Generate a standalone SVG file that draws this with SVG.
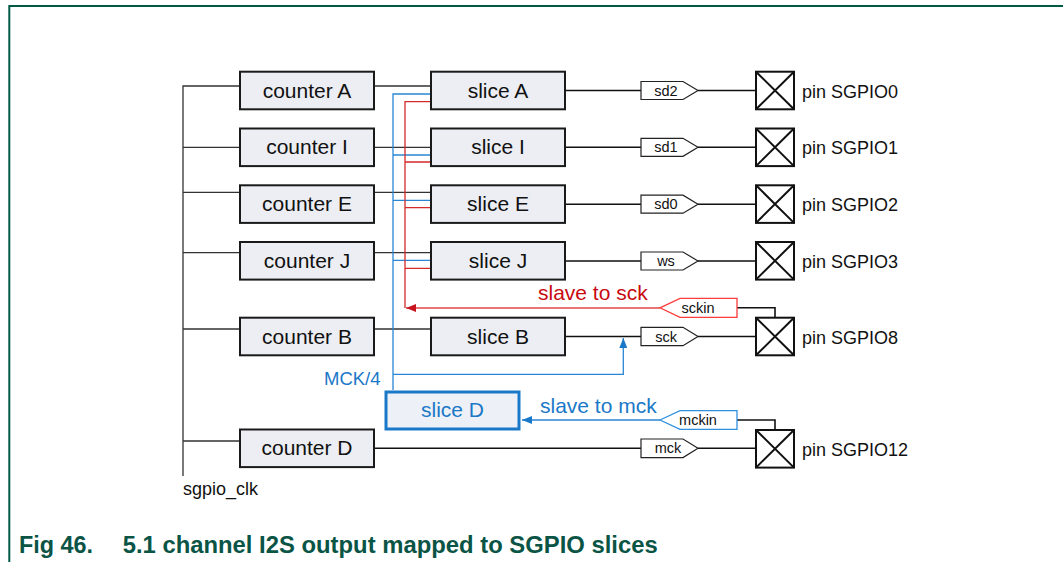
<svg xmlns="http://www.w3.org/2000/svg" width="1063" height="562" viewBox="0 0 1063 562">
<style>
.box{fill:#eceef3;stroke:#1a1a1a;stroke-width:2}
.lbl{font-family:"Liberation Sans",Arial,sans-serif;font-size:21px;fill:#111;text-anchor:middle}
.pinl{font-family:"Liberation Sans",Arial,sans-serif;font-size:18px;fill:#111}
.tag{fill:#fff;stroke:#222;stroke-width:1.2}
.tagt{font-family:"Liberation Sans",Arial,sans-serif;font-size:14.5px;fill:#111;text-anchor:middle}
.pin{fill:#fff;stroke:#111;stroke-width:2}
.w{fill:none;stroke:#333;stroke-width:1.3}
.wk{fill:none;stroke:#111;stroke-width:1.6}
.bl{fill:none;stroke:#2a86d4;stroke-width:1.3}
.rd{fill:none;stroke:#d42a2a;stroke-width:1.3}
</style>
<defs>
<marker id="ar" markerWidth="10" markerHeight="8" refX="10" refY="4" orient="auto" markerUnits="userSpaceOnUse"><path d="M0,0 L10,4 L0,8 z" fill="#c8141e"/></marker>
<marker id="ab" markerWidth="10" markerHeight="8" refX="10" refY="4" orient="auto" markerUnits="userSpaceOnUse"><path d="M0,0 L10,4 L0,8 z" fill="#1a78c8"/></marker>
</defs>
<rect width="1063" height="562" fill="#fff"/>
<path d="M9.3,562 V6 H1063" fill="none" stroke="#005a46" stroke-width="2"/>

<g id="connectors">
<path class="w" d="M183,476 V86 H240 M183,147.3 H240 M183,192.3 H240 M183,252.7 H240 M183,329 H240 M183,441 H240"/>
<path class="w" d="M374,86 H431 M374,147.3 H431 M374,192.3 H431 M374,252.7 H431 M374,329 H431"/>
<path class="bl" d="M393,390 V94 H431 M393,155 H431 M393,200.3 H431 M393,260.3 H431"/>
<path class="rd" d="M405,308 V101.7 H431 M405,162 H431 M405,207.7 H431 M405,268.3 H431"/>
<path d="M660,308 H406" fill="none" stroke="#e04848" stroke-width="1.3" marker-end="url(#ar)"/>
<path class="wk" d="M565,90.5 H641 M698,90.5 H756"/>
<path class="wk" d="M565,147.3 H641 M698,147.3 H756"/>
<path class="wk" d="M565,204.2 H641 M698,204.2 H756"/>
<path class="wk" d="M565,261 H641 M698,261 H756"/>
<path class="wk" d="M565,336.5 H641 M698,336.5 H756"/>
<path class="wk" d="M374,448.3 H641 M698,448.3 H756"/>
<path class="wk" d="M737,307.7 H775 V317.7 M737,420 H775 V430"/>
<path class="bl" d="M393,374.3 H623.3 V338" marker-end="url(#ab)"/>
<path class="bl" d="M660,420 H522" marker-end="url(#ab)"/>
</g>

<g id="bus-label"><text class="pinl" x="183" y="495">sgpio_clk</text></g>

<g id="counterA"><rect class="box" x="240" y="71.7" width="134" height="37.6"/><text class="lbl" x="307" y="97.5">counter A</text></g>
<g id="counterI"><rect class="box" x="240" y="128.5" width="134" height="37.6"/><text class="lbl" x="307" y="154.3">counter I</text></g>
<g id="counterE"><rect class="box" x="240" y="185.3" width="134" height="37.6"/><text class="lbl" x="307" y="211.1">counter E</text></g>
<g id="counterJ"><rect class="box" x="240" y="242" width="134" height="37.6"/><text class="lbl" x="307" y="267.8">counter J</text></g>
<g id="counterB"><rect class="box" x="240" y="317.7" width="134" height="37.6"/><text class="lbl" x="307" y="343.5">counter B</text></g>
<g id="counterD"><rect class="box" x="240" y="429.5" width="134" height="37.6"/><text class="lbl" x="307" y="455.3">counter D</text></g>

<g id="sliceA"><rect class="box" x="431" y="71.7" width="134" height="37.6"/><text class="lbl" x="498" y="97.5">slice A</text></g>
<g id="sliceI"><rect class="box" x="431" y="128.5" width="134" height="37.6"/><text class="lbl" x="498" y="154.3">slice I</text></g>
<g id="sliceE"><rect class="box" x="431" y="185.3" width="134" height="37.6"/><text class="lbl" x="498" y="211.1">slice E</text></g>
<g id="sliceJ"><rect class="box" x="431" y="242" width="134" height="37.6"/><text class="lbl" x="498" y="267.8">slice J</text></g>
<g id="sliceB"><rect class="box" x="431" y="317.7" width="134" height="37.6"/><text class="lbl" x="498" y="343.5">slice B</text></g>
<g id="sliceD"><rect x="386" y="392" width="133" height="37" fill="#edf0f6" stroke="#1a78c8" stroke-width="3"/><text class="lbl" x="452.5" y="417" style="fill:#1a78c8">slice D</text></g>

<g id="tag-sd2"><path class="tag" d="M641,81.5 H683 L698,90.5 L683,99.5 H641 z"/><text class="tagt" x="666" y="95.5">sd2</text></g>
<g id="tag-sd1"><path class="tag" d="M641,138.3 H683 L698,147.3 L683,156.3 H641 z"/><text class="tagt" x="666" y="152.3">sd1</text></g>
<g id="tag-sd0"><path class="tag" d="M641,195.2 H683 L698,204.2 L683,213.2 H641 z"/><text class="tagt" x="666" y="209.2">sd0</text></g>
<g id="tag-ws"><path class="tag" d="M641,252 H683 L698,261 L683,270 H641 z"/><text class="tagt" x="666" y="266">ws</text></g>
<g id="tag-sck"><path class="tag" d="M641,327.3 H683 L698,336.5 L683,345.7 H641 z"/><text class="tagt" x="666" y="341.5">sck</text></g>
<g id="tag-mck"><path class="tag" d="M641,439 H683 L698,448.3 L683,457.6 H641 z"/><text class="tagt" x="668" y="453.3">mck</text></g>
<g id="tag-sckin"><path d="M660,307.8 L680,298.3 H737 V317.3 H680 z" fill="#fff" stroke="#ff3b3b" stroke-width="1.3"/><text class="tagt" x="698" y="313">sckin</text></g>
<g id="tag-mckin"><path d="M660,420 L680,410.7 H737 V429.3 H680 z" fill="#fff" stroke="#3090e0" stroke-width="1.3"/><text class="tagt" x="698" y="425.3">mckin</text></g>

<g id="pin0"><rect class="pin" x="756" y="71.7" width="38" height="37.6"/><path class="pin" d="M756,71.7 L794,109.3 M794,71.7 L756,109.3"/><text class="pinl" x="802" y="97.5">pin SGPIO0</text></g>
<g id="pin1"><rect class="pin" x="756" y="128.5" width="38" height="37.6"/><path class="pin" d="M756,128.5 L794,166.1 M794,128.5 L756,166.1"/><text class="pinl" x="802" y="154.3">pin SGPIO1</text></g>
<g id="pin2"><rect class="pin" x="756" y="185.3" width="38" height="37.6"/><path class="pin" d="M756,185.3 L794,222.9 M794,185.3 L756,222.9"/><text class="pinl" x="802" y="211.1">pin SGPIO2</text></g>
<g id="pin3"><rect class="pin" x="756" y="242" width="38" height="37.6"/><path class="pin" d="M756,242 L794,279.6 M794,242 L756,279.6"/><text class="pinl" x="802" y="267.8">pin SGPIO3</text></g>
<g id="pin8"><rect class="pin" x="756" y="317.7" width="38" height="37.6"/><path class="pin" d="M756,317.7 L794,355.3 M794,317.7 L756,355.3"/><text class="pinl" x="802" y="343.5">pin SGPIO8</text></g>
<g id="pin12"><rect class="pin" x="756" y="430" width="38" height="37.6"/><path class="pin" d="M756,430 L794,467.6 M794,430 L756,467.6"/><text class="pinl" x="802" y="455.8">pin SGPIO12</text></g>

<g id="labels">
<text x="538" y="300" style="font-family:'Liberation Sans',Arial,sans-serif;font-size:21px;fill:#c80a10">slave to sck</text>
<text x="540" y="412.5" style="font-family:'Liberation Sans',Arial,sans-serif;font-size:21px;fill:#1a78c8">slave to mck</text>
<text x="324" y="385" style="font-family:'Liberation Sans',Arial,sans-serif;font-size:18.5px;fill:#1a78c8">MCK/4</text>
</g>

<g id="caption" style="font-family:'Liberation Sans',Arial,sans-serif;font-size:23.5px;font-weight:bold;fill:#0a5446">
<text x="19" y="552.5" textLength="74" lengthAdjust="spacingAndGlyphs">Fig 46.</text>
<text x="122.7" y="552.5" textLength="535" lengthAdjust="spacingAndGlyphs">5.1 channel I2S output mapped to SGPIO slices</text>
</g>
</svg>
